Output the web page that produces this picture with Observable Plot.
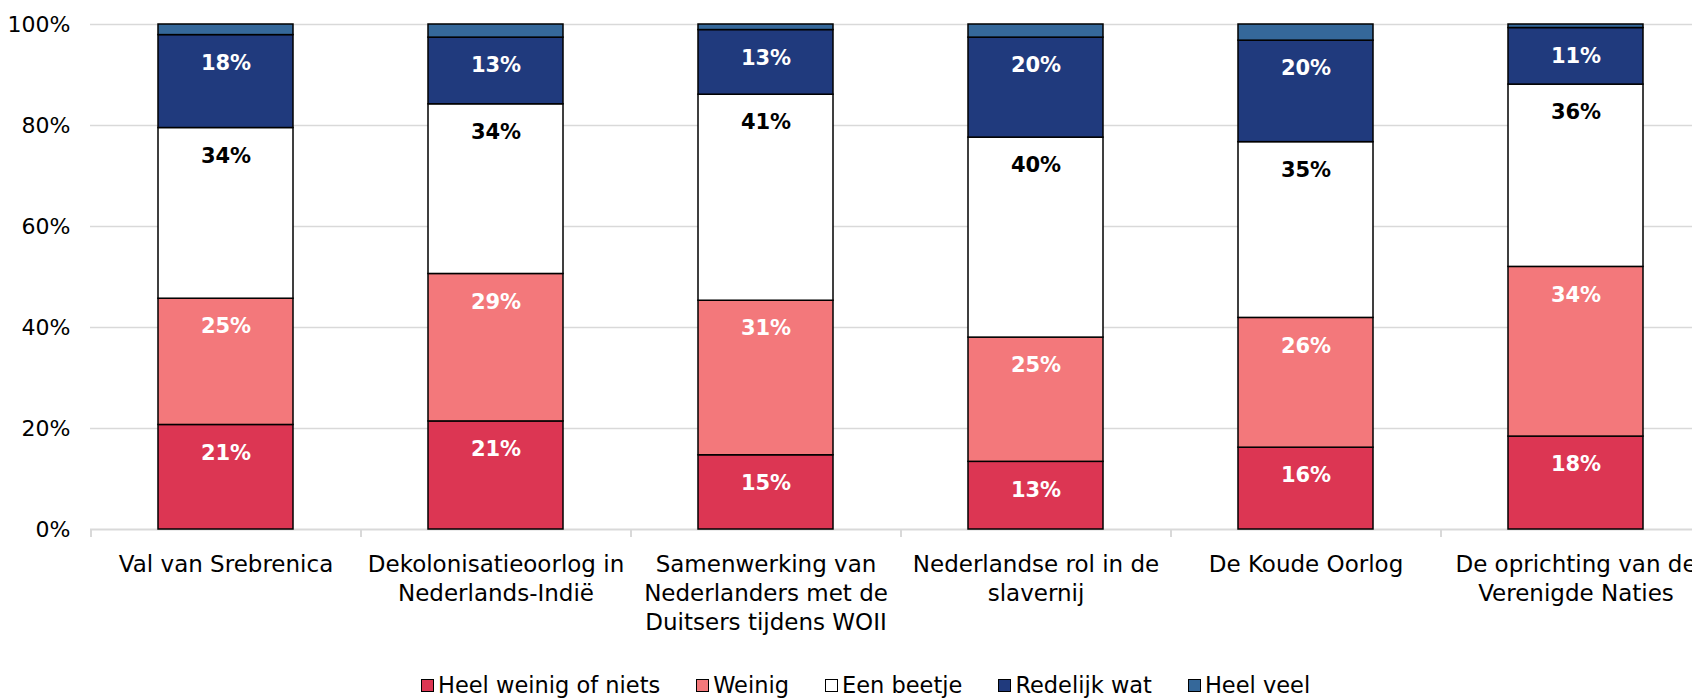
<!DOCTYPE html>
<html>
<head>
<meta charset="utf-8">
<script src="https://cdn.jsdelivr.net/npm/d3@7"></script>
<script src="https://cdn.jsdelivr.net/npm/@observablehq/plot@0.6"></script>
<style>
  html, body { margin: 0; padding: 0; background: #fff; overflow: hidden; }
  #chart svg { display: block; max-width: none !important; }
  #legend { display: flex; align-items: center; height: 30px; padding-top: 2px; margin-left: 421px; font-family: "DejaVu Sans", sans-serif; font-size: 22.5px; color: #000; white-space: nowrap; }
  .item { display: flex; align-items: center; margin-right: 36px; }
  .sw { width: 13px; height: 13px; border: 1.5px solid #000; box-sizing: border-box; margin-right: 4px; }
</style>
</head>
<body>
<div id="chart"></div>
<div id="legend"></div>
<script>
const categories = [
  "Val van Srebrenica",
  "Dekolonisatieoorlog in\nNederlands-Indië",
  "Samenwerking van\nNederlanders met de\nDuitsers tijdens WOII",
  "Nederlandse rol in de\nslavernij",
  "De Koude Oorlog",
  "De oprichting van de\nVerenigde Naties"
];
const series = ["Heel weinig of niets", "Weinig", "Een beetje", "Redelijk wat", "Heel veel"];
const colors = ["#DC3653", "#F3787B", "#FFFFFF", "#203A7D", "#35689A"];
const labelColors = ["#fff", "#fff", "#000", "#fff", null];

const heelWeinigOfNiets = [20.7, 21.4, 14.7, 13.4, 16.2, 18.4];
const weinig            = [25.0, 29.2, 30.6, 24.6, 25.7, 33.6];
const eenBeetje         = [33.8, 33.6, 40.8, 39.6, 34.8, 36.1];
const redelijkWat       = [18.4, 13.2, 12.8, 19.8, 20.1, 11.2];
const heelVeel          = [2.1, 2.6, 1.1, 2.6, 3.2, 0.7];
const yTicks = [0, 20, 40, 60, 80, 100];

const seriesValues = [heelWeinigOfNiets, weinig, eenBeetje, redelijkWat, heelVeel];
const data = [];
categories.forEach((c, i) => {
  series.forEach((s, j) => data.push({cat: c, series: s, value: seriesValues[j][i], labelColor: labelColors[j]}));
});

const width = 1710;
const marginLeft = 90;
const step = (width - marginLeft) / categories.length;

const chart = Plot.plot({
  width,
  height: 668,
  marginLeft,
  marginRight: 0,
  marginTop: 24,
  marginBottom: 139,
  style: {fontFamily: "'DejaVu Sans', sans-serif", background: "#fff"},
  x: {domain: categories, paddingInner: 0.5, paddingOuter: 0.25, label: null},
  y: {domain: [0, 100], label: null},
  color: {domain: series, range: colors},
  marks: [
    Plot.ruleY(yTicks.filter(d => d > 0), {stroke: "#d9d9d9", strokeWidth: 1.5}),
    Plot.ruleY([0], {stroke: "#d9d9d9", strokeWidth: 2}),
    Plot.ruleX(categories, {x: d => d, y1: 0, y2: -1.6, dx: -step / 2, stroke: "#d9d9d9", strokeWidth: 2}),
    Plot.barY(data, Plot.stackY({x: "cat", y: "value", fill: "series", stroke: "#000", strokeWidth: 1.5, order: null})),
    Plot.text(data.filter(d => d.labelColor), Plot.stackY2({
      x: "cat", y: "value", z: "series",
      text: d => Math.round(d.value) + "%",
      fill: "labelColor", dy: 28, fontSize: 21, fontWeight: "bold"
    })),
    Plot.axisY({ticks: yTicks, tickFormat: d => d + "%", tickSize: 0, tickPadding: 20, fontSize: 22, fill: "#000"}),
    Plot.axisX({tickSize: 0, tickPadding: 22, fontSize: 23, lineHeight: 1.26, fill: "#000"})
  ]
});
document.getElementById("chart").appendChild(chart);

const legend = document.getElementById("legend");
series.forEach((s, j) => {
  const item = document.createElement("div");
  item.className = "item";
  const sw = document.createElement("div");
  sw.className = "sw";
  sw.style.background = colors[j];
  const t = document.createElement("span");
  t.textContent = s;
  item.appendChild(sw);
  item.appendChild(t);
  legend.appendChild(item);
});
</script>
</body>
</html>
